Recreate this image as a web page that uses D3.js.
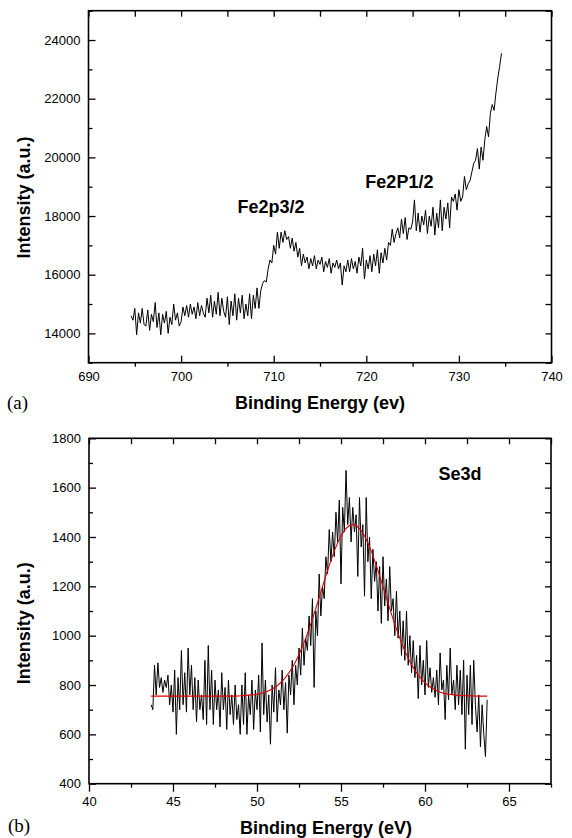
<!DOCTYPE html>
<html>
<head>
    <meta charset="utf-8">
    <title>XPS spectra</title>
    <script src="https://cdnjs.cloudflare.com/ajax/libs/d3/7.8.5/d3.min.js"></script>
    <style>
        body { margin: 0; background: #fff; }
        svg { display: block; }
        text { font-family: "Liberation Sans", Arial, sans-serif; fill: #000; }
        .tick text { font-size: 13px; }
        .title { font-size: 18px; font-weight: bold; }
        .note { font-size: 18px; font-weight: bold; }
        .panel { font-family: "Liberation Serif", "Times New Roman", serif; font-size: 19px; }
    </style>
</head>
<body>
    <div id="chart"></div>
    <script>
        // (a) Fe 2p spectrum, first point at 694.6 eV, one point every 0.2 eV
        const feStart = 694.6;
        const feStep = 0.2;
        const feIntensity = [
            14600, 14450, 14850, 13950, 14700, 14350, 14850, 14300, 14250, 14800,
            14100, 14650, 14400, 15050, 14200, 14700, 13950, 14650, 14350, 14750,
            14000, 14550, 14300, 15000, 14450, 14700, 14250,
            14400, 14900, 14600, 14950, 14550, 15000, 14650, 14900, 14500, 15050,
            14600, 14950, 14700, 14550, 15200, 14700, 15300, 14550, 15100, 14650,
            15400, 14600, 15200, 14750, 14550,
            15250, 14300, 15100, 14600, 15350, 14450, 15200, 14700, 15300, 14500,
            15000, 14600, 15350, 14500, 15300, 14850, 15550, 14850, 15450, 15700,
            15800, 15750, 16200, 16500, 16400, 17000, 16700, 17450, 16900, 17450,
            17100, 17500, 17200, 17300, 16900, 17250, 16800, 17100, 16600, 16900,
            16300, 16700, 16400, 16600, 16200, 16550, 16300, 16650, 16200, 16500,
            16350, 16600, 16100, 16450, 16250, 16550, 16050, 16400, 16250, 16500,
            16200, 16400, 15650, 16300, 16100,
            16500, 16100, 16550, 16200, 16450, 16050, 16600, 16300, 16900, 15850,
            16500, 16200, 16650, 16100, 16700, 16300, 16850, 16050, 16750, 16400,
            16900, 16500, 17100, 17000, 17550, 17100, 17400, 17600, 17250, 17900,
            17400, 17950, 17200, 17600, 17550,
            17800, 18550, 17500, 18100, 17450, 18000, 17700, 18200, 17400, 18000,
            17650, 18300, 17350, 18100, 17600, 18550, 17500, 18300, 17900, 18450,
            17600, 18650, 18500, 18750, 18200, 18900, 18500, 18650, 19350, 18900,
            19100, 19200, 19500, 19800, 19900, 20300, 19600, 20350, 19900, 20600,
            21050, 20700, 21500, 21800, 21600, 22200, 22700, 23100, 23550
        ];
        const feNotes = [
            { label: "Fe2p3/2", x: 706.1, y: 18100 },
            { label: "Fe2P1/2", x: 719.9, y: 18950 }
        ];

        // (b) Se 3d spectrum, first point at 43.7 eV, one point every 0.1 eV
        const seStart = 43.7;
        const seStep = 0.1;
        const seIntensity = [
            720, 700, 880, 760, 890, 790, 830, 770, 820, 790,
            840, 720, 800, 690, 860, 600, 830, 700, 940, 720,
            850, 690, 950, 760, 880, 700, 830, 650, 820, 700,
            760, 660, 900, 640, 960, 700, 860, 640, 820, 700,
            780, 630, 850, 700, 790, 620, 820, 680, 760, 640,
            800, 660, 720, 600, 800, 640, 850, 600, 760, 680,
            820, 620, 780, 700, 840, 610, 970, 680, 820, 650,
            760, 560, 800, 690, 870, 650, 780, 720, 860, 700,
            810, 605, 840, 760, 900, 720, 880, 800, 950, 840,
            1030, 880, 990, 940, 1080, 960, 1150, 790, 1100, 1000,
            1250, 1080, 1200, 1150, 1320, 1250, 1430, 1300, 1420, 1320,
            1500, 1380, 1550, 1210, 1520, 1420, 1670, 1450, 1560, 1380,
            1520, 1420, 1490, 1240, 1560, 1360, 1450, 1160, 1560, 1300,
            1400, 1150, 1350, 1220, 1300, 1100, 1280, 1050, 1320, 1120,
            1230, 1060, 1280, 1100, 1150, 1000, 1180, 990, 1100, 920,
            1060, 900, 1100, 880, 1000, 850, 980, 830, 920, 745,
            960, 800, 900, 760, 980, 790, 870, 770, 830, 750,
            860, 720, 930, 780, 820, 660, 880, 740, 950, 760,
            820, 700, 880, 720, 860, 680, 900, 540, 840, 680,
            880, 640, 900, 720, 610, 760, 550, 720, 600, 510,
            740
        ];
        // fitted peak, one point every 0.5 eV from 43.7 eV
        const fitStart = 43.7;
        const fitStep = 0.5;
        const seFit = [
            755, 755, 755, 755, 755, 755, 755, 755, 755, 755,
            755, 757, 760, 765, 777, 797, 831, 882, 955, 1047,
            1154, 1264, 1360, 1426, 1450, 1426, 1360, 1264, 1154, 1047,
            955, 882, 831, 797, 777, 765, 760, 757, 756, 755,
            755
        ];
        const seNotes = [
            { label: "Se3d", x: 60.8, y: 1630 }
        ];

        const width = 572;
        const height = 838;
        const svg = d3.select("#chart")
            .append("svg")
            .attr("width", width)
            .attr("height", height);

        function series(values, start, step) {
            return values.map((v, i) => [start + i * step, v]);
        }

        function drawPanel(p) {
            const x = d3.scaleLinear().domain(p.xDomain).range([p.left, p.right]);
            const y = d3.scaleLinear().domain(p.yDomain).range([p.bottom, p.top]);
            const g = svg.append("g");
            const clean = sel => sel.select(".domain").remove();

            // left axis, ticks inward
            g.append("g").attr("transform", `translate(${p.left},0)`)
                .call(d3.axisLeft(y).tickValues(p.yMinor).tickSize(-4).tickFormat(""))
                .call(clean);
            g.append("g").attr("transform", `translate(${p.left},0)`)
                .call(d3.axisLeft(y).tickValues(p.yMajor).tickSize(-7).tickPadding(8).tickFormat(d3.format("d")))
                .call(clean);

            // right axis, ticks inward
            g.append("g").attr("transform", `translate(${p.right},0)`)
                .call(d3.axisRight(y).tickValues(p.yMinor.concat(p.yMajor)).tickSize(-6).tickFormat(""))
                .call(clean);

            // top axis, ticks inward
            g.append("g").attr("transform", `translate(0,${p.top})`)
                .call(d3.axisTop(x).tickValues(p.xMinor.concat(p.xMajor)).tickSize(-6).tickFormat(""))
                .call(clean);

            // bottom axis
            g.append("g").attr("transform", `translate(0,${p.bottom})`)
                .call(d3.axisBottom(x).tickValues(p.xMinor).tickSize(4).tickFormat(""))
                .call(clean);
            g.append("g").attr("transform", `translate(0,${p.bottom})`)
                .call(d3.axisBottom(x).tickValues(p.xMajor).tickSize(p.xMajorSize).tickPadding(p.xPad).tickFormat(d3.format("d")))
                .call(clean);

            g.selectAll(".tick line").attr("stroke", "#000").attr("stroke-width", 1.3);

            g.append("rect")
                .attr("x", p.left).attr("y", p.top)
                .attr("width", p.right - p.left).attr("height", p.bottom - p.top)
                .attr("fill", "none").attr("stroke", "#000").attr("stroke-width", 1.6);

            const line = d3.line().x(d => x(d[0])).y(d => y(d[1]));
            g.append("path")
                .datum(p.data)
                .attr("fill", "none").attr("stroke", "#000").attr("stroke-width", 1)
                .attr("stroke-linejoin", "round")
                .attr("d", line);

            if (p.fit) {
                g.append("path")
                    .datum(p.fit)
                    .attr("fill", "none").attr("stroke", "#e00000").attr("stroke-width", 1.1)
                    .attr("d", line.curve(d3.curveMonotoneX));
            }

            g.selectAll(".note")
                .data(p.notes)
                .join("text")
                .attr("class", "note")
                .attr("x", d => x(d.x))
                .attr("y", d => y(d.y))
                .text(d => d.label);

            g.append("text")
                .attr("class", "title")
                .attr("text-anchor", "middle")
                .attr("x", p.xTitlePos[0]).attr("y", p.xTitlePos[1])
                .text(p.xTitle);

            g.append("text")
                .attr("class", "title")
                .attr("text-anchor", "middle")
                .attr("transform", `translate(${p.yTitlePos[0]},${p.yTitlePos[1]}) rotate(-90)`)
                .text("Intensity (a.u.)");

            g.append("text")
                .attr("class", "panel")
                .attr("x", p.tagPos[0]).attr("y", p.tagPos[1])
                .text(p.tag);
        }

        drawPanel({
            xDomain: [690, 740], yDomain: [13000, 25000],
            left: 88.5, right: 551.5, top: 10.7, bottom: 362.7,
            xMajor: d3.range(690, 741, 10), xMinor: d3.range(695, 740, 10),
            yMajor: d3.range(14000, 24001, 2000), yMinor: d3.range(13000, 25001, 2000),
            xMajorSize: -7, xPad: 9,
            data: series(feIntensity, feStart, feStep),
            notes: feNotes,
            xTitle: "Binding Energy (ev)", xTitlePos: [320, 409],
            yTitlePos: [29.5, 197.5],
            tag: "(a)", tagPos: [7, 409]
        });

        drawPanel({
            xDomain: [40, 67.5], yDomain: [400, 1800],
            left: 89, right: 551, top: 438.3, bottom: 783.7,
            xMajor: d3.range(40, 66, 5), xMinor: d3.range(42.5, 68, 5),
            yMajor: d3.range(400, 1801, 200), yMinor: d3.range(500, 1800, 200),
            xMajorSize: 8, xPad: 5.5,
            data: series(seIntensity, seStart, seStep),
            fit: series(seFit, fitStart, fitStep),
            notes: seNotes,
            xTitle: "Binding Energy (eV)", xTitlePos: [326, 834],
            yTitlePos: [29.5, 623.3],
            tag: "(b)", tagPos: [8, 831.5]
        });
    </script>
</body>
</html>
